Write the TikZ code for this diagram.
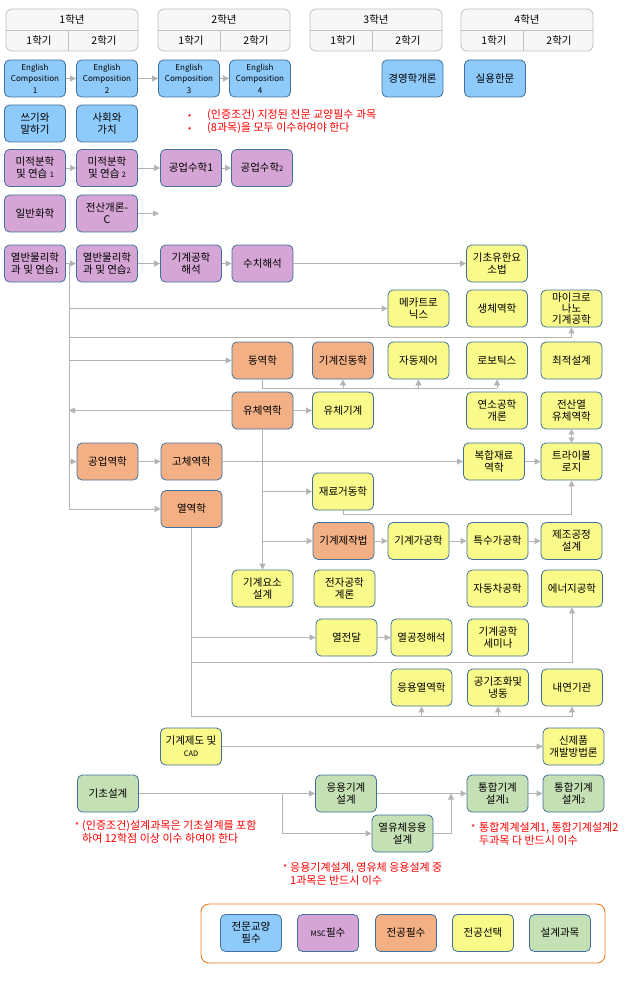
\documentclass[tikz,border=0pt]{standalone}
\usepackage{fontspec}
\setmainfont{Noto Sans CJK KR}
\usetikzlibrary{arrows.meta,positioning}

\definecolor{gyo}{RGB}{142,202,250}
\definecolor{msc}{RGB}{213,166,213}
\definecolor{jpil}{RGB}{243,176,132}
\definecolor{jsel}{RGB}{250,250,138}
\definecolor{seol}{RGB}{197,224,180}
\definecolor{rim}{RGB}{65,113,156}
\definecolor{lnc}{RGB}{180,180,180}
\definecolor{hdr}{RGB}{247,247,247}
\definecolor{hdrrim}{RGB}{192,192,192}
\definecolor{lgrim}{RGB}{240,120,30}

\newcommand\sm[1]{{\fontsize{7.5}{8}\selectfont #1}}

\tikzset{
  course/.style={draw=rim,line width=0.8pt,rounded corners=5pt,
    minimum width=61pt,minimum height=37pt,inner sep=1pt,
    align=center,font=\fontsize{10.5}{12}\selectfont},
  gy/.style={course,fill=gyo},
  ms/.style={course,fill=msc},
  jp/.style={course,fill=jpil},
  js/.style={course,fill=jsel},
  sg/.style={course,fill=seol},
  ln/.style={draw=lnc,line width=0.8pt},
  arr/.style={ln,-{Triangle[length=6pt,width=6pt]}},
  darr/.style={ln,{Triangle[length=5pt,width=6pt]}-{Triangle[length=5pt,width=6pt]}},
  note/.style={text=red,font=\fontsize{11}{13}\selectfont,align=left,
    anchor=north west,inner sep=0pt},
}

\begin{document}
\begin{tikzpicture}[x=1pt,y=-1pt]
  \useasboundingbox (0,0) rectangle (630,1000);

  % year headers
  \foreach \x/\y in {6/1,158/2,310/3,461/4}{
    \draw[draw=hdrrim,fill=hdr,line width=0.8pt,rounded corners=6pt]
      (\x,9) rectangle ++(132,42);
    \draw[hdrrim,line width=0.8pt] (\x,30.5) -- ++(132,0);
    \draw[hdrrim,line width=0.8pt] (\x+62,30.5) -- (\x+62,51);
    \node[font=\fontsize{10.5}{12}\selectfont] (yr\y) at (\x+66,20) {\y{}학년};
    \node[font=\fontsize{10.5}{12}\selectfont] (yr\y a) at (\x+33,41) {1학기};
    \node[font=\fontsize{10.5}{12}\selectfont] (yr\y b) at (\x+98,41) {2학기};
  }

  % courses
  \node[gy,font=\fontsize{8}{11.5}\selectfont] (ec1) at (35,78.5) {English\\Composition\\1};
  \node[gy,font=\fontsize{8}{11.5}\selectfont] (ec2) at (107,78.5) {English\\Composition\\2};
  \node[gy,font=\fontsize{8}{11.5}\selectfont] (ec3) at (189,78.5) {English\\Composition\\3};
  \node[gy,font=\fontsize{8}{11.5}\selectfont] (ec4) at (260,78.5) {English\\Composition\\4};
  \node[gy] (biz) at (412.5,78.5) {경영학개론};
  \node[gy] (hanmun) at (495,78.5) {실용한문};
  \node[gy] (writ) at (35,123.5) {쓰기와\\말하기};
  \node[gy] (soc) at (107,123.5) {사회와\\가치};

  \node[ms] (calc1) at (35,168) {미적분학\\및 연습 \sm{1}};
  \node[ms] (calc2) at (107,168) {미적분학\\및 연습 \sm{2}};
  \node[ms] (emath1) at (191,168) {공업수학1};
  \node[ms] (emath2) at (262,168) {공업수학\sm{2}};
  \node[ms] (chem) at (35,213.5) {일반화학};
  \node[ms] (comp) at (107,213.5) {전산개론-\\C};
  \node[ms] (phys1) at (35,263.5) {열반물리학\\과 및 연습\sm{1}};
  \node[ms] (phys2) at (107,263.5) {열반물리학\\과 및 연습\sm{2}};
  \node[ms] (mea) at (191,263.5) {기계공학\\해석};
  \node[ms] (numa) at (262.5,263.5) {수치해석};

  \node[js] (fem) at (497,263.5) {기초유한요\\소법};
  \node[js] (mecha) at (418.5,308.5) {메카트로\\닉스};
  \node[js] (bio) at (497,308.5) {생체역학};
  \node[js,font=\fontsize{10.5}{11}\selectfont] (micro) at (571.5,308.5) {마이크로\\나노\\기계공학};
  \node[jp] (dyn) at (262.5,360.5) {동역학};
  \node[jp] (vib) at (343,360.5) {기계진동학};
  \node[js] (ctrl) at (418.5,360.5) {자동제어};
  \node[js] (robot) at (497,360.5) {로보틱스};
  \node[js] (opt) at (571.5,360.5) {최적설계};
  \node[jp] (fluid) at (262.5,410.5) {유체역학};
  \node[js] (fmach) at (343,410.5) {유체기계};
  \node[js] (comb) at (497,410.5) {연소공학\\개론};
  \node[js] (cfd) at (571.5,410.5) {전산열\\유체역학};
  \node[jp] (emech) at (107.5,461.5) {공업역학};
  \node[jp] (solid) at (191.5,461.5) {고체역학};
  \node[js] (compo) at (494,461.5) {복합재료\\역학};
  \node[js] (tribo) at (571.5,461.5) {트라이볼\\로지};
  \node[js] (matb) at (343,491.5) {재료거동학};
  \node[jp] (thermo) at (191.5,509) {열역학};
  \node[jp] (manuf) at (343.5,541) {기계제작법};
  \node[js] (mproc) at (418.5,541) {기계가공학};
  \node[js] (sproc) at (497.5,541) {특수가공학};
  \node[js] (mpd) at (571.5,541) {제조공정\\설계};
  \node[js] (mdes) at (262.5,588.5) {기계요소\\설계};
  \node[js] (elec) at (344.5,588.5) {전자공학\\계론};
  \node[js] (auto) at (497.5,588.5) {자동차공학};
  \node[js] (energy) at (572,588.5) {에너지공학};
  \node[js] (heat) at (346.5,637.5) {열전달};
  \node[js] (tpa) at (421.5,637.5) {열공정해석};
  \node[js] (sem) at (498,637.5) {기계공학\\세미나};
  \node[js] (athermo) at (421.5,687.5) {응용열역학};
  \node[js] (hvac) at (498,687.5) {공기조화및\\냉동};
  \node[js] (ice) at (572,687.5) {내연기관};
  \node[js] (cad) at (191,746.5) {기계제도 및\\\sm{CAD}};
  \node[js] (npd) at (573.5,746.5) {신제품\\개발방법론};

  \node[sg] (bdes) at (108,793.5) {기초설계};
  \node[sg] (amd) at (346,793.5) {응용기계\\설계};
  \node[sg] (tfd) at (402.5,833.5) {열유체응용\\설계};
  \node[sg] (cap1) at (497.5,793.5) {통합기계\\설계\sm{1}};
  \node[sg] (cap2) at (573.5,793.5) {통합기계\\설계\sm{2}};

  % free ends and bends
  \coordinate (compend) at (159,213.5);
  \coordinate (s0) at (69,263.5);
  \coordinate (mic) at (69,337);
  \coordinate (d1) at (262.5,388);
  \coordinate (m1) at (343,514.5);
  \coordinate (t1) at (191.5,716);
  \coordinate (t2) at (191.5,662);
  \coordinate (b1) at (282,793.5);
  \coordinate (c1) at (451,793.5);

  % connectors
  \draw[arr] (ec1) -- (ec2);
  \draw[arr] (ec2) -- (ec3);
  \draw[arr] (ec3) -- (ec4);
  \draw[arr] (calc1) -- (calc2);
  \draw[arr] (calc2) -- (emath1);
  \draw[arr] (emath1) -- (emath2);
  \draw[arr] (comp) -- (compend);
  \draw[arr] (phys1) -- (phys2);
  \draw[arr] (phys2) -- (mea);
  \draw[arr] (mea) -- (numa);
  \draw[arr] (numa) -- (fem);

  \draw[arr] (s0) |- (thermo);
  \draw[arr] (s0 |- mecha) -- (mecha);
  \draw[arr] (mic) -| (micro);
  \draw[arr] (s0 |- dyn) -- (dyn);
  \draw[arr] (fluid) -- (s0 |- fluid);
  \draw[arr] (s0 |- emech) -- (emech);

  \draw[ln] (dyn) |- (robot |- d1);
  \foreach \n in {vib,ctrl,robot}
    \draw[arr] (\n |- d1) -- (\n);

  \draw[arr] (fluid) -- (fmach);
  \draw[arr] (fluid) -- (mdes);
  \draw[arr] (fluid |- matb) -- (matb);
  \draw[arr] (fluid |- manuf) -- (manuf);

  \draw[arr] (emech) -- (solid);
  \draw[arr] (solid) -- (compo);
  \draw[arr] (compo) -- (tribo);
  \draw[darr] (tribo) -- (cfd);
  \draw[arr] (matb) -- (m1) -| (tribo);

  \draw[arr] (manuf) -- (mproc);
  \draw[arr] (mproc) -- (sproc);
  \draw[arr] (sproc) -- (mpd);

  \draw[arr] (thermo) -- (t1) -| (ice);
  \foreach \n in {athermo,hvac}
    \draw[arr] (\n |- t1) -- (\n);
  \draw[arr] (thermo |- heat) -- (heat);
  \draw[arr] (t2) -| (energy);
  \draw[arr] (heat) -- (tpa);

  \draw[arr] (cad) -- (npd);
  \draw[arr] (bdes) -- (amd);
  \draw[arr] (b1) |- (tfd);
  \draw[arr] (tfd) -| (c1);
  \draw[arr] (amd) -- (cap1);
  \draw[arr] (cap1) -- (cap2);

  % notes
  \node[note] (nt1) at (188,109.5) {\makebox[19pt][l]{\fontsize{9}{9}\selectfont{}•}(인증조건) 지정된 전문 교양필수 과목\\
    \makebox[19pt][l]{\fontsize{9}{9}\selectfont{}•}(8과목)을 모두 이수하여야 한다};
  \node[note] (nt2) at (75,820.5) {\makebox[7pt][l]{\fontsize{9}{9}\selectfont{}*}(인증조건)설계과목은 기초설계를 포함\\
    \hspace{7pt}하여 12학점 이상 이수 하여야 한다};
  \node[note] (nt3) at (283,862.5) {\makebox[7pt][l]{\fontsize{9}{9}\selectfont{}*}응용기계설계, 영유체 응용설계 중\\
    \hspace{7pt}1과목은 반드시 이수};
  \node[note] (nt4) at (471,822.5) {\makebox[8pt][l]{\fontsize{9}{9}\selectfont{}*}통합계계설계1, 통합기계설계2\\
    \hspace{8pt}두과목 다 반드시 이수};

  % legend
  \draw[lgrim,line width=0.9pt,rounded corners=8pt] (201,904) rectangle (605,963);
  \node[gy] (lg1) at (251,933) {전문교양\\필수};
  \node[ms] (lg2) at (328,933) {\sm{MSC}필수};
  \node[jp] (lg3) at (406,933) {전공필수};
  \node[js] (lg4) at (483,933) {전공선택};
  \node[sg] (lg5) at (560,933) {설계과목};
\end{tikzpicture}
\end{document}
